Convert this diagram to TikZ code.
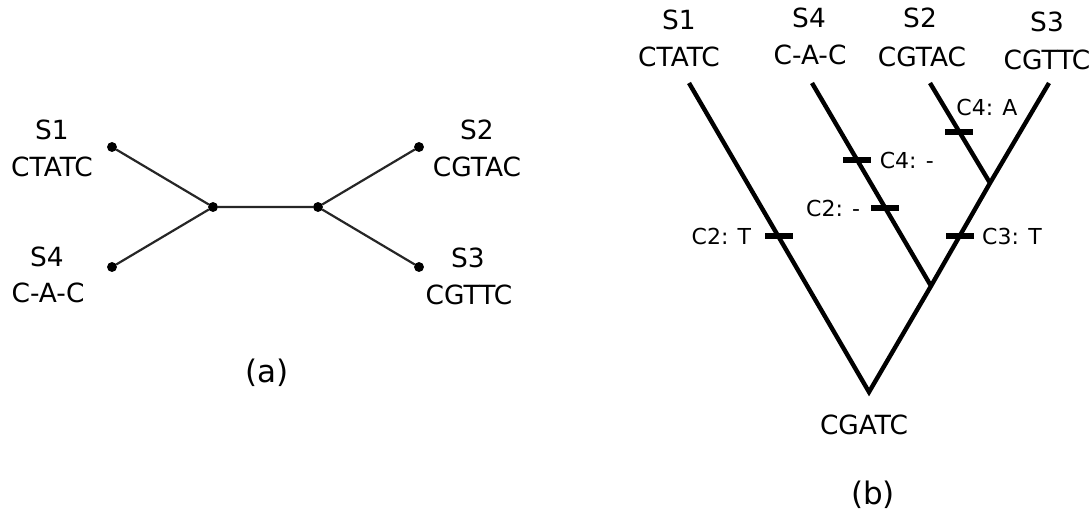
\documentclass[tikz,border=0pt]{standalone}
\usepackage{fontspec}
\setmainfont{DejaVu Sans}
\usetikzlibrary{positioning}
\tikzstyle{vertexb}=[shape=circle, draw=black, fill=black, inner sep=0pt, minimum size=4.5pt]
\tikzstyle{taxon}=[inner sep=0pt, font=\fontsize{13.2}{15}\selectfont]
\tikzstyle{change}=[inner sep=0pt, font=\fontsize{11}{13}\selectfont]
\tikzstyle{caption}=[inner sep=0pt, font=\fontsize{15.5}{18}\selectfont]
\tikzstyle{tick}=[shape=rectangle, fill=black, inner sep=0pt, minimum width=14pt, minimum height=3pt]

\begin{document}
\begin{tikzpicture}[x=0.5pt, y=-0.5pt]
\useasboundingbox (0,0) rectangle (1091,515);
% (a) unrooted tree
\node [taxon](n1) at (52,130){S1}; \node [taxon](q1) at (52,167){CTATC};
\node [taxon](n4) at (47,257){S4}; \node [taxon](q4) at (48,293){C-A-C};
\node [taxon](n2) at (477,130){S2}; \node [taxon](q2) at (477,167){CGTAC};
\node [taxon](n3) at (468,258){S3}; \node [taxon](q3) at (469,295){CGTTC};
\node [caption](capa) at (267,373){(a)};
\tikzstyle{every node}=[vertexb];
\node (a1) at (112,147){}; \node (a4) at (112,267){};
\node (a2) at (419,147){}; \node (a3) at (419,267){};
\node (u1) at (213,207){}; \node (u2) at (318,207){};
\draw [line width=1.1pt, black!85] (a1) -- (u1) -- (a4) (u1) -- (u2) (a2) -- (u2) -- (a3);
\tikzstyle{every node}=[];
% (b) rooted tree
\node [taxon](m1) at (679,20){S1}; \node [taxon](p1) at (679,57){CTATC};
\node [taxon](m4) at (809,18){S4}; \node [taxon](p4) at (810,55){C-A-C};
\node [taxon](m2) at (920,18){S2}; \node [taxon](p2) at (922,57){CGTAC};
\node [taxon](m3) at (1047,22){S3}; \node [taxon](p3) at (1047,60){CGTTC};
\coordinate (b1) at (689,83); \coordinate (b4) at (812,83);
\coordinate (b2) at (930,83); \coordinate (b3) at (1049,83);
\coordinate (j23) at (990,183); \coordinate (j4) at (931,286);
\coordinate (r) at (869,392);
\draw [line width=2.2pt] (b1) -- (r) -- (j4) -- (j23) -- (b3) (b4) -- (j4) (b2) -- (j23);
\node [taxon](root) at (864,425){CGATC};
\node [caption](capb) at (873,495){(b)};
% character changes
\node [tick](t1) at (779,236){}; \node [change, left=6.5pt of t1](c1){C2: T};
\node [tick](t2) at (885,208){}; \node [change, left=5pt of t2](c2){C2: -};
\node [tick](t3) at (857,160){}; \node [change, right=4pt of t3](c3){C4: -};
\node [tick](t4) at (959,132){}; \node [change, anchor=west](c4) at (956,107){C4: A};
\node [tick](t5) at (960,236){}; \node [change, right=3.7pt of t5](c5){C3: T};
\end{tikzpicture}
\end{document}
